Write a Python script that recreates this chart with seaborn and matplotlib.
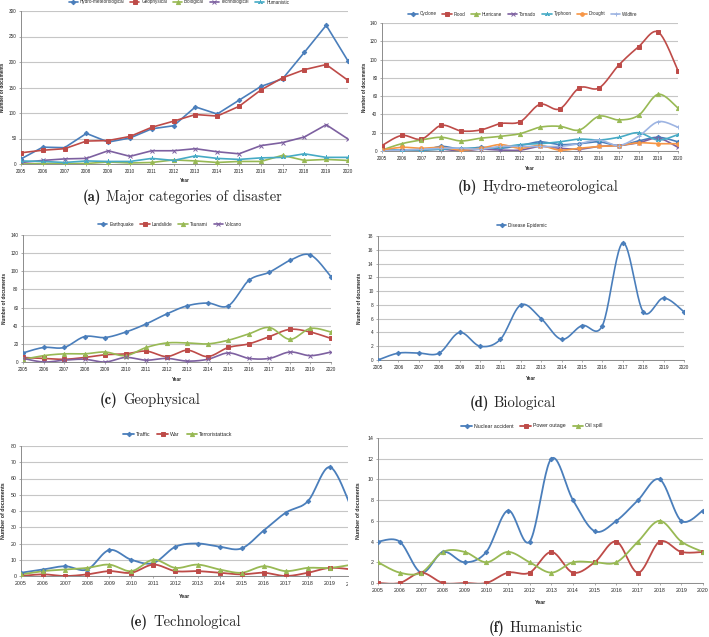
import numpy as np
import pandas as pd
import matplotlib
matplotlib.use("Agg")
import matplotlib.pyplot as plt
import seaborn as sns
from matplotlib.lines import Line2D
from matplotlib.transforms import Bbox, TransformedBbox

years = list(range(2005, 2021))

# (a) major categories
cat_names = ["Hydro-meteorological", "Geophysical", "Biological", "Technological", "Humanistic"]
hydro_total = [10, 33, 32, 60, 43, 51, 69, 75, 112, 98, 125, 152, 167, 219, 272, 202]
geo_total = [22, 27, 30, 45, 46, 54, 72, 84, 97, 94, 113, 145, 169, 185, 195, 164]
bio_total = [0, 1, 1, 1, 4, 2, 3, 8, 6, 3, 5, 5, 17, 7, 9, 7]
tech_total = [3, 7, 10, 11, 26, 15, 26, 26, 30, 24, 20, 36, 42, 53, 77, 49]
hum_total = [6, 5, 3, 6, 5, 5, 11, 7, 16, 11, 9, 12, 13, 20, 13, 13]

# (b) hydro-meteorological
hydro_names = ["Cyclone", "Flood", "Hurricane", "Tornado", "Typhoon", "Drought", "Wildfire"]
cyclone = [1, 1, 0, 5, 2, 4, 3, 6, 10, 7, 8, 10, 6, 11, 15, 10]
flood = [6, 17, 13, 28, 22, 23, 30, 32, 51, 46, 69, 69, 94, 114, 130, 88]
hurricane = [1, 8, 12, 15, 11, 14, 16, 19, 26, 27, 23, 38, 34, 39, 62, 47]
tornado = [0, 0, 1, 2, 0, 2, 1, 1, 5, 3, 2, 5, 6, 9, 14, 4]
typhoon = [1, 1, 1, 2, 3, 3, 4, 7, 8, 10, 13, 12, 15, 20, 12, 18]
drought = [1, 4, 3, 4, 1, 3, 7, 3, 6, 1, 3, 5, 6, 9, 8, 8]
wildfire = [0, 1, 2, 3, 3, 2, 5, 5, 5, 5, 8, 12, 6, 16, 32, 26]

# (c) geophysical
geo_names = ["Earthquake", "Landslide", "Tsunami", "Volcano"]
earthquake = [10, 16, 16, 28, 27, 33, 42, 53, 62, 65, 62, 90, 99, 112, 118, 94]
landslide = [5, 4, 3, 5, 8, 9, 12, 6, 13, 6, 16, 20, 28, 36, 33, 26]
tsunami = [3, 7, 9, 9, 11, 7, 16, 21, 21, 20, 24, 31, 38, 25, 37, 33]
volcano = [4, 0, 2, 3, 0, 5, 2, 4, 1, 3, 10, 4, 4, 11, 7, 11]

# (d) biological
bio_names = ["Disease Epidemic"]
disease = [0, 1, 1, 1, 4, 2, 3, 8, 6, 3, 5, 5, 17, 7, 9, 7]

# (e) technological
tech_names = ["Traffic", "War", "Terroristattack"]
traffic = [2, 4, 6, 4, 16, 10, 8, 18, 20, 18, 17, 28, 39, 46, 67, 41]
war = [0, 1, 0, 1, 3, 2, 7, 3, 3, 2, 1, 2, 0, 2, 5, 4]
terror = [1, 3, 4, 5, 7, 3, 10, 5, 7, 4, 2, 6, 3, 5, 5, 7]

# (f) humanistic
hum_names = ["Nuclear accident", "Power outage", "Oil spill"]
nuclear = [4, 4, 1, 3, 2, 3, 7, 4, 12, 8, 5, 6, 8, 10, 6, 7]
power = [0, 0, 1, 0, 0, 0, 1, 1, 3, 1, 2, 4, 1, 4, 3, 3]
oil = [2, 1, 1, 3, 3, 2, 3, 2, 1, 2, 2, 2, 4, 6, 4, 3]

COLORS = ["#4A7EBB", "#BE4B48", "#98B954", "#7D60A0", "#46AAC5", "#F79646", "#9DB4E2"]
ASTER = (3, 2, 0)
MARKERS = ["D", "s", "^", "x", ASTER, "o", "+"]
MS = {"D": 2.3, "s": 2.5, "^": 3.0, "x": 2.8, ASTER: 3.2, "o": 2.6, "+": 3.2}

sns.set_style("white")
plt.rcParams["font.family"] = ["Liberation Sans", "DejaVu Sans"]

W, H = 709, 637
fig = plt.figure(figsize=(W / 100, H / 100), dpi=100)


def add_ax(L, R, T, B):
    return fig.add_axes([L / W, 1 - B / H, (R - L) / W, (B - T) / H])


def smooth_curve(x, y, n=24):
    pts = np.column_stack([np.asarray(x, float), np.asarray(y, float)])
    P = np.vstack([pts[0], pts, pts[-1]])
    out = []
    t = np.linspace(0, 1, n)[:, None]
    for i in range(1, len(P) - 2):
        p0, p1, p2, p3 = P[i - 1], P[i], P[i + 1], P[i + 2]
        c1 = p1 + (p2 - p0) / 6.0
        c2 = p2 - (p3 - p1) / 6.0
        seg = (1 - t) ** 3 * p1 + 3 * (1 - t) ** 2 * t * c1 + 3 * (1 - t) * t ** 2 * c2 + t ** 3 * p2
        out.append(seg if i == len(P) - 3 else seg[:-1])
    s = np.vstack(out)
    return s[:, 0], s[:, 1]


def style(ax, L, R, T, B, ymax, ystep, ylab_x, year_y, fs=3.5, xmax=2020):
    ax.set_xlim(2005, xmax)
    ax.set_ylim(0, ymax)
    ticks = [y for y in years if y <= xmax]
    ax.set_xticks(ticks)
    ax.set_xticklabels([str(y) for y in ticks])
    ax.set_yticks(np.arange(0, ymax + 0.01, ystep))
    ax.set_yticklabels([str(int(v)) for v in np.arange(0, ymax + 0.01, ystep)])
    ax.grid(axis="y", color="#C6C6C6", lw=0.8)
    ax.grid(axis="x", visible=False)
    ax.set_axisbelow(True)
    for s in ["top", "right"]:
        ax.spines[s].set_visible(False)
    for s in ["left", "bottom"]:
        ax.spines[s].set_color("#8C8C8C")
        ax.spines[s].set_linewidth(0.7)
    ax.tick_params(axis="both", labelsize=fs, length=1.5, width=0.5, color="#8C8C8C",
                   pad=1.8, bottom=True, left=True)
    ax.set_xlabel("Year", fontsize=fs, fontweight="bold")
    ax.set_ylabel("Number of documents", fontsize=fs, fontweight="bold")
    ax.xaxis.label.set_va("center")
    ax.yaxis.label.set_va("center")
    ax.xaxis.set_label_coords(0.5, (B - year_y) / (B - T))
    ax.yaxis.set_label_coords((ylab_x - L) / (R - L), 0.5)


def draw(ax, series, names, smooth=True, lw=1.2, idx=None):
    handles = []
    for k, (vals, name) in enumerate(zip(series, names)):
        j = k if idx is None else idx[k]
        c = COLORS[j]
        m = MARKERS[j]
        ms = MS[m]
        if smooth:
            xs, ys = smooth_curve(years, vals)
            sns.lineplot(x=xs, y=ys, ax=ax, color=c, lw=lw, estimator=None, sort=False,
                         legend=False)
        else:
            sns.lineplot(x=years, y=vals, ax=ax, color=c, lw=lw, estimator=None, legend=False)
        ax.plot(years, vals, ls="none", marker=m, ms=ms, color=c, mec=c, mew=0.7,
                clip_on=True, zorder=3)
        handles.append(Line2D([], [], color=c, lw=lw, marker=m, ms=ms, mec=c, mew=0.7,
                              label=name))
    return handles


def legend(handles, cx, cy, fs=3.5, hl=2.0):
    fig.legend(handles=handles, loc="center", bbox_to_anchor=(cx / W, 1 - cy / H),
               bbox_transform=fig.transFigure, ncol=len(handles), frameon=False,
               fontsize=fs, handlelength=hl, handletextpad=0.4, columnspacing=1.3)


def caption(letter, text, x_split, y, size=10.5):
    fig.text((x_split - 3) / W, 1 - y / H, letter, family="cmb10", fontsize=size,
             ha="right", va="center")
    fig.text((x_split + 2) / W, 1 - y / H, text, family="cmr10", fontsize=size,
             ha="left", va="center")


# (a)
L, R, T, B = 21, 348, 11, 164
ax = add_ax(L, R, T, B)
h = draw(ax, [hydro_total, geo_total, bio_total, tech_total, hum_total], cat_names, smooth=False)
style(ax, L, R, T, B, 300, 50, 3, 180, fs=3.3)
legend(h, 179, 2, fs=3.3)
caption("(a)", "Major categories of disaster", 104, 197)

# (b)
L, R, T, B = 382, 678, 23, 151
ax = add_ax(L, R, T, B)
h = draw(ax, [cyclone, flood, hurricane, tornado, typhoon, drought, wildfire], hydro_names)
style(ax, L, R, T, B, 140, 20, 364, 168, fs=3.3)
legend(h, 523, 14, fs=3.3)
caption("(b)", "Hydro-meteorological", 480, 187)

# (c)
L, R, T, B = 23, 331, 235, 362
ax = add_ax(L, R, T, B)
h = draw(ax, [earthquake, landslide, tsunami, volcano], geo_names)
style(ax, L, R, T, B, 140, 20, 5, 380, fs=3.4)
legend(h, 170, 224, fs=3.4)
caption("(c)", "Geophysical", 121, 400)

# (d)
L, R, T, B = 378, 684, 236, 360
ax = add_ax(L, R, T, B)
h = draw(ax, [disease], bio_names)
style(ax, L, R, T, B, 18, 2, 360, 379, fs=3.4)
legend(h, 522, 225, fs=3.4)
caption("(d)", "Biological", 492, 403)

# (e)  -- right side cut off at x=348 as in the source
L, R, T, B = 21, 348, 446, 576
px_per_year = (352 - 21) / 15.0
xmax_e = 2005 + (R - L) / px_per_year
ax = add_ax(L, R, T, B)
h = draw(ax, [traffic, war, terror], tech_names, lw=1.3)
style(ax, L, R, T, B, 80, 10, 4, 596, fs=3.8, xmax=xmax_e)
clip = TransformedBbox(Bbox.from_extents(0, 0, 348 / W, 1), fig.transFigure)
t20 = ax.text(2020, 0, "2020", fontsize=3.8, ha="center", va="top",
              transform=ax.get_xaxis_transform(), clip_on=True)
t20.set_position((2020, -(584 - 576 - 2.5) / (B - T) - 0.0))
t20.set_clip_box(clip)
legend(h, 178, 434, fs=3.8)
caption("(e)", "Technological", 151, 622)

# (f)
L, R, T, B = 378, 703, 438, 583
ax = add_ax(L, R, T, B)
h = draw(ax, [nuclear, power, oil], hum_names, lw=1.3)
style(ax, L, R, T, B, 14, 2, 359, 603, fs=3.8)
legend(h, 532, 426, fs=3.8)
caption("(f)", "Humanistic", 508, 628)

fig.savefig("out.png", dpi=100)
